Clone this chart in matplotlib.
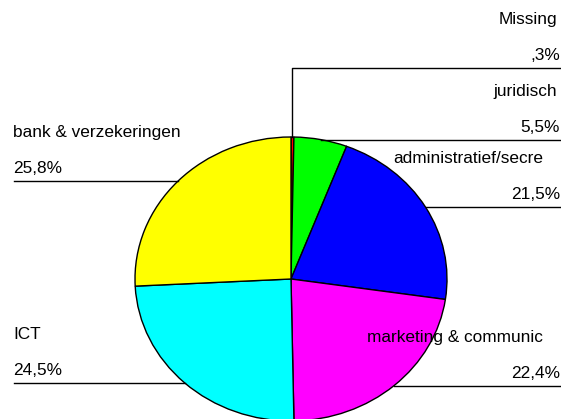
import numpy as np
import matplotlib.pyplot as plt

plt.rcParams['font.family'] = ['Liberation Sans', 'DejaVu Sans']

labels = ['Missing', 'juridisch', 'administratief/secre', 'marketing & communic',
          'ICT', 'bank & verzekeringen']
pct_labels = [',3%', '5,5%', '21,5%', '22,4%', '24,5%', '25,8%']
values = [0.3, 5.5, 21.5, 22.4, 24.5, 25.8]
colors = ['#ff0000', '#00ff00', '#0000ff', '#ff00ff', '#00ffff', '#ffff00']

W, H = 561, 419
# pie ellipse in pixel coordinates (y down)
cx, cy, rx, ry = 291, 279, 156, 142

fig = plt.figure(figsize=(W / 100, H / 100), dpi=100)

ax_pie = fig.add_axes([(cx - rx) / W, (H - (cy + ry)) / H, 2 * rx / W, 2 * ry / H])
ax_pie.pie(values, colors=colors, startangle=90, counterclock=False,
           wedgeprops=dict(edgecolor='black', linewidth=1))
ax_pie.set_xlim(-1, 1)
ax_pie.set_ylim(-1, 1)
ax_pie.set_aspect('auto')
ax_pie.axis('off')

ax = fig.add_axes([0, 0, 1, 1])
ax.set_xlim(0, W)
ax.set_ylim(H, 0)
ax.axis('off')

fracs = np.array(values) / sum(values)
mids = np.cumsum(fracs) - fracs / 2
fs = 12.4
for i, (name, pct, m) in enumerate(zip(labels, pct_labels, mids)):
    theta = np.deg2rad(90 - 360 * m)
    px = cx + rx * np.cos(theta)
    py = cy - ry * np.sin(theta)
    if i == 0:
        # tiny slice: elbow leader up above the pie
        ly = 68
        ax.plot([px, px, W], [py, ly, ly], color='black', lw=1)
    else:
        ly = py
        if px > cx:
            ax.plot([px, W], [ly, ly], color='black', lw=1)
        else:
            ax.plot([14, px], [ly, ly], color='black', lw=1)
    if px >= cx:
        # truncated labels sit a bit further left
        nx = 543 if len(name) >= 20 else 557
        ax.text(nx, ly - 44, name, ha='right', va='baseline', fontsize=fs)
        ax.text(560, ly - 8, pct, ha='right', va='baseline', fontsize=fs)
    else:
        ax.text(13, ly - 44, name, ha='left', va='baseline', fontsize=fs)
        ax.text(13, ly - 8, pct, ha='left', va='baseline', fontsize=fs)

fig.savefig('out.png', dpi=100)
